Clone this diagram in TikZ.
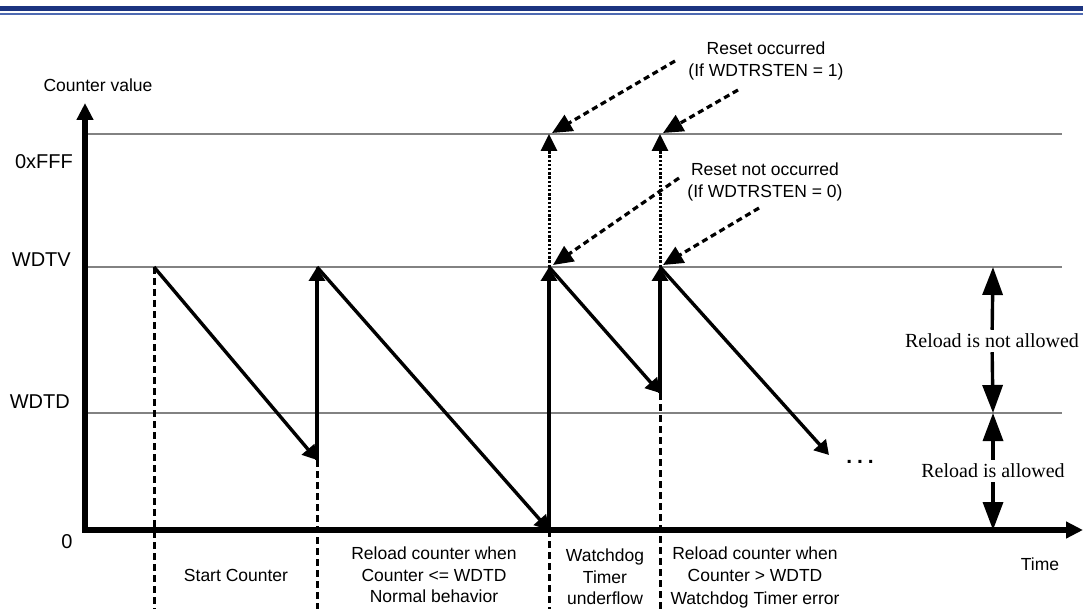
\documentclass[tikz,border=0pt]{standalone}
\usepackage{fontspec}
\setmainfont{Liberation Sans}
\newfontfamily\timesfont{Liberation Serif}
\usetikzlibrary{arrows.meta}
\definecolor{barblue}{RGB}{28,52,128}
\definecolor{lineblue}{RGB}{78,106,178}
\definecolor{gridgrey}{RGB}{130,130,130}
\begin{document}
\begin{tikzpicture}[x=1pt,y=-1pt,
  axis/.style={line width=5.5pt,line join=miter},
  grid/.style={gridgrey,line width=1.8pt},
  ramp/.style={line width=3.4pt,-{Triangle[length=14pt,width=16pt]}},
  jump/.style={line width=3.4pt,-{Triangle[length=14pt,width=16pt]}},
  ovf/.style={line width=3pt,dash pattern=on 2.4pt off 1.8pt,-{Triangle[length=17pt,width=16pt]}},
  mark line/.style={line width=3pt,dash pattern=on 7pt off 4pt},
  callout/.style={line width=3.2pt,dash pattern=on 6pt off 4pt,-{Triangle[length=20pt,width=18pt]}},
  span/.style={line width=3.4pt,-{Triangle[length=28pt,width=20pt]}},
  lbl/.style={font=\fontsize{17.5}{21.5}\selectfont,align=center,inner sep=0pt},
  ylbl/.style={font=\fontsize{20}{24}\selectfont,inner sep=0pt},
  tlbl/.style={font=\timesfont\fontsize{20}{24}\selectfont,inner sep=4pt}]
\useasboundingbox (0,0) rectangle (1083,609);

% header bars
\fill[barblue] (0,6.5) rectangle (1083,11);
\fill[lineblue] (0,12.8) rectangle (1083,15);

% key positions
\coordinate (ytop) at (85,103);
\coordinate (org) at (85,530);
\coordinate (xend) at (1083,530);
\coordinate (a0) at (154,267);
\coordinate (b1) at (317,460);
\coordinate (t1) at (317,267);
\coordinate (b2) at (549,530);
\coordinate (t2) at (549,267);
\coordinate (f2) at (549,134);
\coordinate (b3) at (660,393);
\coordinate (t3) at (660,267);
\coordinate (f3) at (660,134);
\coordinate (e4) at (829,455);

% level lines
\coordinate (gfL) at (87,134);  \coordinate (gfR) at (1062,134);
\coordinate (gvL) at (87,267);  \coordinate (gvR) at (1062,267);
\coordinate (gdL) at (87,413);  \coordinate (gdR) at (1062,413);
\draw[grid] (gfL) -- (gfR);
\draw[grid] (gvL) -- (gvR);
\draw[grid] (gdL) -- (gdR);

% phase boundaries
\coordinate (d0) at (154,609);
\coordinate (d1) at (317,609);
\coordinate (d2) at (549,609);
\coordinate (d3) at (660,609);
\draw[mark line] (a0) -- (d0);
\draw[mark line] (b1) -- (d1);
\draw[mark line] (b2) -- (d2);
\draw[mark line] (b3) -- (d3);

% axes
\draw[axis,{Triangle[length=17pt,width=16pt]}-{Triangle[length=17pt,width=16pt]}] (ytop) -- (org) -- (xend);

% counter ramps and reloads
\draw[ramp] (a0) -- (b1);
\draw[jump] (b1) -- (t1);
\draw[ramp] (t1) -- (b2);
\draw[jump] (b2) -- (t2);
\draw[ovf] (t2) -- (f2);
\draw[ramp] (t2) -- (b3);
\draw[jump] (b3) -- (t3);
\draw[ovf] (t3) -- (f3);
\draw[ramp] (t3) -- (e4);
\node[inner sep=0pt,font=\bfseries\fontsize{21}{24}\selectfont] (dots) at (860,462) {.\hspace{5pt}.\hspace{5pt}.};

% axis labels
\node[lbl] (ylab) at (98,85) {Counter value};
\node[ylbl,anchor=east] (lfff) at (73,162) {0xFFF};
\node[ylbl,anchor=east] (lwdtv) at (71,260) {WDTV};
\node[ylbl,anchor=east] (lwdtd) at (70,402) {WDTD};
\node[ylbl] (lzero) at (67,542) {0};
\node[lbl] (ltime) at (1040,564) {Time};

% reset callouts
\node[lbl,font=\fontsize{17.5}{22}\selectfont] (rst1) at (766,61) {Reset occurred\\(If WDTRSTEN = 1)};
\node[lbl,font=\fontsize{17.5}{22}\selectfont] (rst0) at (765,182) {Reset not occurred\\(If WDTRSTEN = 0)};
\coordinate (c1a) at (675,61);
\coordinate (c1b) at (738,90);
\coordinate (c0a) at (679,178);
\coordinate (c0b) at (759,208);
\coordinate (h2) at (552,133);
\coordinate (h3) at (663,133);
\coordinate (k2) at (553,265);
\coordinate (k3) at (663,265);
\draw[callout] (c1a) -- (h2);
\draw[callout] (c1b) -- (h3);
\draw[callout] (c0a) -- (k2);
\draw[callout] (c0b) -- (k3);

% reload windows
\coordinate (r1) at (993,267);
\coordinate (r2) at (993,413);
\coordinate (r3) at (993,530);
\node[tlbl] (nall) at (992,341) {Reload is not allowed};
\node[tlbl] (all) at (993,471) {Reload is allowed};
\draw[span] (nall) -- (r1);
\draw[span] (nall) -- (r2);
\draw[span] (all) -- (r2);
\draw[span] (all) -- (r3);

% phase captions
\node[lbl] (p1) at (236,575) {Start Counter};
\node[lbl] (p2) at (434,575) {Reload counter when\\Counter <= WDTD\\Normal behavior};
\node[lbl] (p3) at (605,577) {Watchdog\\Timer\\underflow};
\node[lbl,font=\fontsize{17.5}{22.5}\selectfont] (p4) at (755,577) {Reload counter when\\Counter > WDTD\\Watchdog Timer error};
\end{tikzpicture}
\end{document}
